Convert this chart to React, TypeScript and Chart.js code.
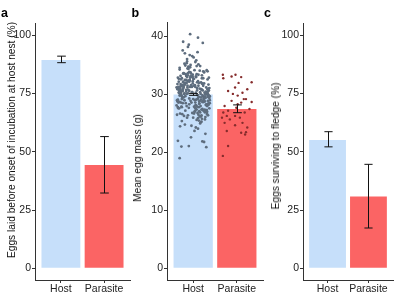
import React, { useEffect, useRef } from "react";
import { Chart, registerables } from "chart.js";

Chart.register(...registerables);

const groups = ["Host", "Parasite"];

const laidBeforeMean = [89.4, 44.3];
const laidBeforeLow = [88.2, 32.3];
const laidBeforeHigh = [91.0, 56.5];

const eggMassMean = [30.0, 27.5];
const eggMassLow = [29.85, 26.85];
const eggMassHigh = [30.15, 28.2];

const fledgeMean = [55.0, 30.8];
const fledgeLow = [52.1, 17.3];
const fledgeHigh = [58.6, 44.6];

const pctTicks = [0, 25, 50, 75, 100];
const massTicks = [0, 10, 20, 30, 40];

const hostMass = [
  30.1, 28.4, 32.7, 26.9, 31.5, 29.3, 34.2, 27.8, 30.9, 33.1,
  25.6, 31.8, 29.7, 35.4, 28.9, 30.4, 27.2, 32.3, 29.1, 33.8,
  26.4, 31.2, 28.1, 30.7, 34.9, 29.8, 27.5, 32.9, 30.2, 24.8,
  33.4, 28.6, 31.9, 26.1, 30.5, 35.9, 29.4, 27.9, 32.1, 30.8,
  23.7, 31.4, 28.3, 33.6, 29.6, 26.7, 30.3, 34.5, 28.8, 31.1,
  27.3, 32.5, 30.0, 25.2, 31.7, 29.0, 36.4, 28.2, 33.0, 30.6,
  26.6, 29.9, 32.8, 27.6, 31.3, 34.1, 28.5, 30.1, 24.3, 32.2,
  29.5, 33.3, 27.1, 31.0, 28.7, 35.1, 30.4, 26.3, 32.6, 29.2,
  31.6, 27.4, 34.7, 29.8, 25.9, 30.9, 28.0, 33.5, 31.8, 22.6,
  30.3, 28.5, 32.0, 26.8, 37.1, 29.6, 31.4, 27.7, 33.9, 30.0,
  28.9, 31.5, 25.4, 30.7, 34.3, 29.1, 32.4, 27.0, 30.2, 35.6,
  26.2, 32.9, 29.4, 31.2, 28.1, 33.7, 30.5, 24.6, 31.9, 28.6,
  33.2, 27.9, 30.8, 29.3, 36.8, 26.5, 31.6, 28.4, 32.3, 30.1,
  21.9, 29.7, 32.1, 27.3, 30.6, 34.8, 28.8, 31.1, 25.7, 33.1,
  30.4, 28.2, 35.3, 29.9, 26.0, 31.8, 27.6, 32.7, 30.0, 38.2,
  27.1, 31.3, 29.5, 33.6, 28.3, 30.9, 24.1, 32.5, 29.0, 34.0,
  31.0, 26.9, 30.2, 28.7, 33.4, 29.8, 37.6, 27.4, 31.7, 23.2,
  29.2, 32.8, 28.0, 30.6, 25.3, 31.4, 34.6, 29.6, 27.8, 32.0,
  36.1, 28.6, 31.2, 26.4, 30.3, 33.0, 29.1, 21.1, 32.2, 28.9,
  30.8, 27.2, 33.8, 29.4, 31.5, 26.7, 35.0, 28.4, 30.1, 39.8,
  29.4, 31.9, 27.5, 33.2, 30.7, 28.1, 32.4, 26.5, 31.0, 29.7,
  34.4, 28.8, 30.3, 27.0, 32.9, 29.5, 31.6, 25.8, 30.9, 33.5,
  28.4, 30.1, 33.9, 27.7, 31.3, 29.0, 35.7, 26.2, 32.1, 30.5,
  31.8, 27.9, 29.9, 34.0, 28.6, 32.6, 30.2, 26.0, 31.5, 29.3,
  27.4, 33.0, 30.8, 28.2, 31.2, 25.5, 32.8, 29.8, 34.7, 28.0,
  30.6, 26.6, 31.7, 29.1, 33.3, 27.8, 30.0, 32.3, 28.5, 36.6,
  29.6, 32.0, 27.1, 30.4, 34.2, 28.9, 31.4, 26.8, 33.6, 30.7,
  28.3, 31.1, 29.2, 35.2, 27.3, 32.5, 30.3, 24.5, 31.9, 29.0,
  32.7, 28.7, 30.9, 26.4, 33.7, 29.4, 31.0, 27.6, 34.9, 30.1,
  27.0, 30.6, 32.2, 28.8, 31.3, 25.0, 29.7, 33.1, 28.1, 31.6,
  40.4, 39.1, 38.6, 19.0, 21.0, 20.9, 22.0, 21.8, 37.3, 38.9,
];

const hostJitter = [
  -0.21, 0.14, -0.33, 0.27, 0.02, -0.09, 0.31, -0.26, 0.19, -0.04,
  0.08, -0.29, 0.23, -0.15, 0.34, -0.02, -0.18, 0.11, -0.35, 0.25,
  -0.12, 0.30, 0.05, -0.24, 0.16, -0.31, 0.21, -0.07, 0.33, -0.19,
  0.12, -0.34, -0.01, 0.28, -0.16, 0.07, 0.24, -0.27, 0.18, -0.11,
  0.03, -0.22, 0.32, -0.05, 0.13, -0.30, 0.26, -0.13, -0.36, 0.09,
  0.22, -0.08, -0.28, 0.17, 0.35, -0.20, 0.01, 0.29, -0.14, -0.32,
  -0.25, 0.10, 0.20, -0.34, -0.03, 0.15, -0.17, 0.31, 0.06, -0.23,
  0.27, -0.12, 0.04, -0.30, 0.24, -0.06, 0.16, -0.21, 0.33, 0.00,
  -0.27, 0.19, -0.10, 0.36, 0.11, -0.33, -0.15, 0.08, 0.22, -0.05,
  0.30, -0.24, 0.13, -0.02, -0.19, 0.26, -0.29, 0.04, -0.09, 0.34,
  -0.06, 0.23, -0.26, 0.09, -0.31, 0.18, -0.11, 0.32, -0.20, 0.05,
  0.15, -0.35, 0.28, -0.13, 0.07, -0.22, 0.34, -0.04, 0.20, -0.28,
  -0.16, 0.02, -0.30, 0.25, -0.08, 0.12, -0.25, 0.35, -0.01, 0.17,
  0.21, -0.18, 0.09, 0.31, -0.27, -0.11, 0.14, -0.34, 0.27, 0.06,
  -0.03, 0.33, -0.20, 0.10, -0.14, 0.22, -0.32, 0.00, 0.29, -0.12,
  0.25, -0.07, 0.18, -0.23, 0.30, -0.36, 0.11, -0.16, 0.04, 0.23,
  -0.30, 0.16, -0.12, 0.21, -0.01, 0.35, -0.24, 0.08, -0.19, 0.28,
  0.10, -0.26, 0.32, -0.09, 0.19, -0.04, -0.31, 0.26, 0.13, -0.17,
  -0.14, 0.05, -0.22, 0.34, -0.28, 0.07, 0.24, -0.10, -0.33, 0.15,
  0.19, 0.29, -0.06, -0.25, 0.12, 0.02, -0.18, 0.35, -0.30, 0.11,
  0.37, -0.19, 0.06, -0.29, 0.22, 0.31, -0.08, -0.37, 0.15, -0.26,
  -0.11, 0.27, -0.33, 0.03, 0.36, -0.22, -0.05, 0.20, 0.33, -0.17,
  0.14, -0.30, 0.25, -0.10, 0.05, 0.38, -0.14, 0.18, -0.23, 0.29,
  -0.36, 0.09, 0.21, 0.33, -0.04, -0.28, 0.30, 0.00, -0.13, 0.11,
  0.26, -0.01, -0.16, 0.35, -0.38, 0.13, 0.23, -0.27, -0.07, 0.17,
  -0.24, 0.32, -0.20, 0.07, 0.20, -0.35, 0.28, -0.12, 0.38, -0.02,
  0.33, -0.15, 0.14, -0.32, 0.03, 0.24, -0.28, 0.10, -0.21, 0.36,
  -0.09, 0.37, -0.26, 0.12, 0.29, -0.19, 0.06, -0.30, 0.25, -0.37,
  0.02, -0.31, 0.34, 0.19, -0.12, 0.27, -0.23, 0.37, 0.08, -0.15,
  0.31, -0.27, -0.09, 0.22, -0.34, 0.16, 0.38, -0.06, -0.38, 0.04,
  -0.07, -0.23, -0.10, -0.31, -0.27, 0.30, -0.35, 0.25, 0.10, 0.22,
];

const parasiteMass = [
  33.4, 32.8, 33.1, 33.4, 33.0, 32.1, 31.2, 30.6, 30.3, 29.8,
  29.2, 28.9, 28.6, 28.7, 28.0, 27.7, 27.2, 26.9, 26.9, 26.3,
  26.0, 25.7, 25.1, 25.1, 24.7, 24.3, 23.7, 23.4, 23.1, 23.5,
  21.1, 19.4, 30.1, 30.9, 26.3, 28.3, 27.5, 26.0, 29.2, 32.0,
];

const parasiteJitter = [
  -0.32, -0.31, -0.12, -0.03, 0.10, 0.34, -0.04, -0.20, 0.13, 0.02,
  0.21, -0.12, 0.10, 0.34, -0.28, -0.01, -0.20, -0.31, 0.18, -0.04,
  0.07, -0.16, -0.28, 0.13, -0.04, 0.24, -0.23, 0.10, 0.19, 0.21,
  -0.20, -0.32, -0.09, 0.24, -0.23, 0.02, 0.29, -0.34, 0.16, 0.04,
];

const FONT = "'Liberation Sans', Arial, Helvetica, sans-serif";
const HOST_FILL = "#c6dffa";
const PARASITE_FILL = "#fb6464";
const HOST_DOT = "#5e6d7e";
const PARASITE_DOT = "#862c2c";
const AXIS = "#333333";

function errorBarPlugin(lows: number[], highs: number[]) {
  return {
    id: "errorbars",
    afterDatasetsDraw(chart: any) {
      const xs = chart.scales.x;
      const ys = chart.scales.y;
      const ctx = chart.ctx;
      ctx.save();
      ctx.strokeStyle = "#111111";
      ctx.lineWidth = 1;
      lows.forEach((lo, i) => {
        const cx = Math.round(xs.getPixelForValue(i + 1)) + 0.5;
        const half = Math.abs(xs.getPixelForValue(i + 1.1) - xs.getPixelForValue(i + 1));
        const yl = ys.getPixelForValue(lo);
        const yh = ys.getPixelForValue(highs[i]);
        ctx.beginPath();
        ctx.moveTo(cx, yl);
        ctx.lineTo(cx, yh);
        ctx.moveTo(cx - half, yl);
        ctx.lineTo(cx + half, yl);
        ctx.moveTo(cx - half, yh);
        ctx.lineTo(cx + half, yh);
        ctx.stroke();
      });
      ctx.restore();
    },
  };
}

type PanelProps = {
  left: number;
  width: number;
  yMin: number;
  yMax: number;
  yTicks: number[];
  means: number[];
  lows: number[];
  highs: number[];
  axisWidth: number;
  padTop: number;
  padRight: number;
  withPoints?: boolean;
};

function Panel(p: PanelProps) {
  const ref = useRef<HTMLCanvasElement | null>(null);
  useEffect(() => {
    if (!ref.current) return;
    const datasets: any[] = [
      {
        type: "bar",
        data: p.means.map((m, i) => ({ x: i + 1, y: m })),
        backgroundColor: [HOST_FILL, PARASITE_FILL],
        borderWidth: 0,
        barPercentage: 0.9,
        categoryPercentage: 1,
        order: 2,
      },
    ];
    if (p.withPoints) {
      datasets.push({
        type: "scatter",
        data: hostMass.map((m, i) => ({ x: 1 + hostJitter[i], y: m })),
        pointRadius: 1.4,
        pointBorderWidth: 0,
        pointBackgroundColor: HOST_DOT,
        showLine: false,
        order: 1,
      });
      datasets.push({
        type: "scatter",
        data: parasiteMass.map((m, i) => ({ x: 2 + parasiteJitter[i], y: m })),
        pointRadius: 1.2,
        pointBorderWidth: 0,
        pointBackgroundColor: PARASITE_DOT,
        showLine: false,
        order: 1,
      });
    }
    const chart = new Chart(ref.current, {
      type: "bar",
      data: { datasets },
      options: {
        animation: false,
        responsive: false,
        devicePixelRatio: 1,
        layout: { padding: { top: p.padTop, right: p.padRight, left: 0, bottom: 0 } },
        plugins: { legend: { display: false }, tooltip: { enabled: false } },
        scales: {
          x: {
            type: "linear",
            offset: false,
            min: 0.4,
            max: 2.6,
            afterBuildTicks: (s: any) => {
              s.ticks = groups.map((_, i) => ({ value: i + 1 }));
            },
            afterFit: (s: any) => {
              s.height = 20;
            },
            grid: { display: true, drawOnChartArea: false, drawTicks: true, tickLength: 3, color: AXIS, offset: false },
            border: { display: true, color: AXIS, width: 1 },
            ticks: {
              autoSkip: false,
              maxRotation: 0,
              padding: 0,
              color: "#222222",
              font: { family: FONT, size: 10.5 },
              callback: (_v: any, i: number) => groups[i],
            },
          },
          y: {
            type: "linear",
            min: p.yMin,
            max: p.yMax,
            afterBuildTicks: (s: any) => {
              s.ticks = p.yTicks.map((v) => ({ value: v }));
            },
            afterFit: (s: any) => {
              s.width = p.axisWidth;
            },
            grid: { display: true, drawOnChartArea: false, drawTicks: true, tickLength: 3, color: AXIS },
            border: { display: true, color: AXIS, width: 1 },
            ticks: { padding: 1, color: "#222222", font: { family: FONT, size: 10.5 } },
          },
        },
      },
      plugins: [errorBarPlugin(p.lows, p.highs)],
    } as any);
    return () => chart.destroy();
  }, []);
  return (
    <canvas
      ref={ref}
      width={p.width}
      height={300}
      style={{ position: "absolute", left: p.left, top: 0, width: p.width, height: 300 }}
    />
  );
}

const letterStyle = (left: number): React.CSSProperties => ({
  position: "absolute",
  left,
  top: 7.4,
  fontFamily: FONT,
  fontWeight: "bold",
  fontSize: "12.5px",
  lineHeight: "12.5px",
  color: "#000",
});

const titleStyle = (cx: number, cy: number): React.CSSProperties => ({
  position: "absolute",
  left: cx,
  top: cy,
  transform: "translate(-50%, -50%) rotate(-90deg)",
  fontFamily: FONT,
  fontSize: "10.2px",
  lineHeight: "12px",
  color: "#111",
  whiteSpace: "nowrap",
});

export default function App() {
  return (
    <div style={{ position: "fixed", left: 0, top: 0, width: 400, height: 300, background: "#fff", overflow: "hidden" }}>
      <Panel
        left={0}
        width={133}
        yMin={-5}
        yMax={105}
        yTicks={pctTicks}
        means={laidBeforeMean}
        lows={laidBeforeLow}
        highs={laidBeforeHigh}
        axisWidth={35}
        padTop={23.5}
        padRight={3}
      />
      <Panel
        left={128}
        width={139}
        yMin={-2.02}
        yMax={42.42}
        yTicks={massTicks}
        means={eggMassMean}
        lows={eggMassLow}
        highs={eggMassHigh}
        axisWidth={39}
        padTop={22.5}
        padRight={2}
        withPoints
      />
      <Panel
        left={262}
        width={138}
        yMin={-5}
        yMax={105}
        yTicks={pctTicks}
        means={fledgeMean}
        lows={fledgeLow}
        highs={fledgeHigh}
        axisWidth={41}
        padTop={23.5}
        padRight={7}
      />
      <div style={titleStyle(11.5, 140)}>Eggs laid before onset of incubation at host nest (%)</div>
      <div style={titleStyle(137.5, 157.5)}>Mean egg mass (g)</div>
      <div style={titleStyle(276, 146)}>Eggs surviving to fledge (%)</div>
      <div style={letterStyle(1)}>a</div>
      <div style={letterStyle(131.5)}>b</div>
      <div style={letterStyle(264)}>c</div>
    </div>
  );
}
